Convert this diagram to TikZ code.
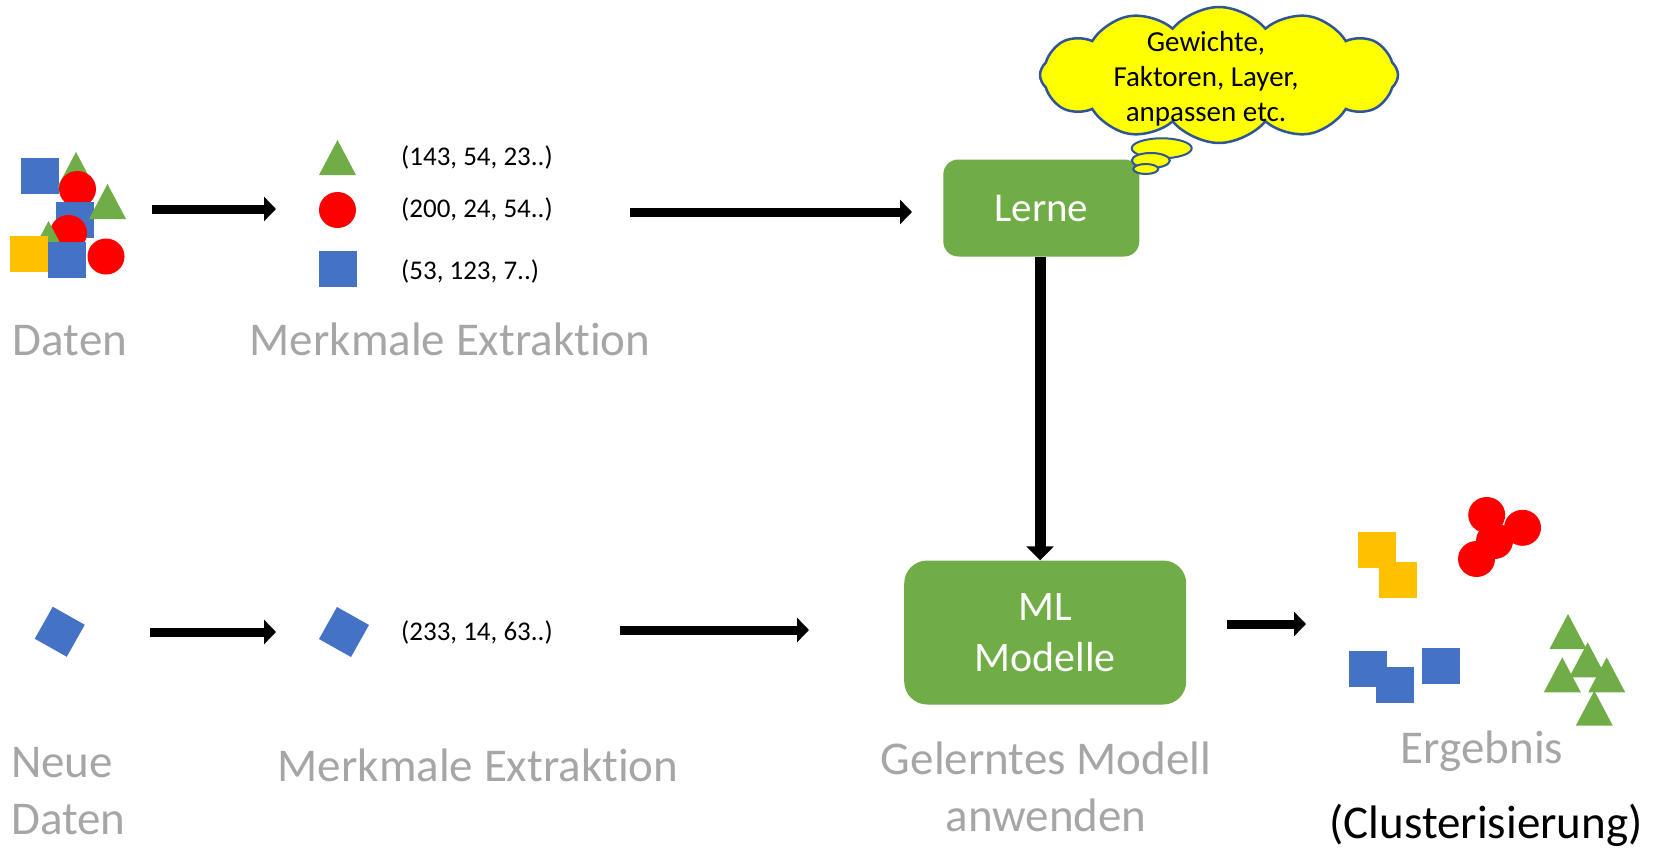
\documentclass[tikz,border=0pt]{standalone}
\usepackage{fontspec}
\setmainfont{Carlito}[Ligatures=NoCommon,RawFeature={-liga;-calt;-dlig}]
\usetikzlibrary{arrows.meta,shapes.symbols}

\definecolor{grn}{HTML}{70AD47}
\definecolor{blu}{HTML}{4472C4}
\definecolor{rd}{HTML}{FF0000}
\definecolor{ylw}{HTML}{FFC000}
\definecolor{lbl}{HTML}{A6A6A6}
\definecolor{cloudline}{HTML}{2F5597}
\definecolor{cloudfill}{HTML}{FFFF00}

% small icon macros (top-left / apex / centre given in pixel coordinates)
\newcommand\icTri[2]{\fill[grn] (#1,#2) -- ++(-18.5,35) -- ++(37,0) -- cycle;}
\newcommand\icSq[2]{\fill[blu] (#1,#2) rectangle ++(38,36);}
\newcommand\icYSq[2]{\fill[ylw] (#1,#2) rectangle ++(38,36);}
\newcommand\icDot[2]{\fill[rd] (#1,#2) ellipse[x radius=18.5,y radius=18];}
\newcommand\icDiamond[2]{\fill[blu,shift={(#1,#2)}] (-7,-25) -- (25,-7) -- (7,25) -- (-25,7) -- cycle;}

\tikzset{
  flow/.style={line width=9pt,-{Triangle[width=24pt,length=12pt]}},
  bigflow/.style={line width=11pt,-{Triangle[width=27pt,length=14pt]}},
  greybig/.style={text=lbl,font=\fontsize{47}{56}\selectfont,inner sep=0pt},
  vec/.style={font=\fontsize{27}{32}\selectfont,inner sep=0pt,anchor=west},
  greenbox/.style={fill=grn,rounded corners=#1,text=white,align=center,inner sep=0pt},
}

\begin{document}
\begin{tikzpicture}[x=1pt,y=-1pt]
\useasboundingbox (0,0) rectangle (1662,848);

% ---- training data: mixed shapes
\icSq{21}{158}
\icTri{76}{152}
\icDot{77.5}{189}
\icSq{56}{202}
\icTri{107.5}{184}
\icDot{68.5}{233}
\icTri{48.5}{221}
\icYSq{10}{236}
\icSq{48}{242}
\icDot{106}{256.5}
\node[greybig,anchor=base] (daten) at (70,355) {Daten};

% ---- feature vectors
\icTri{337.5}{140}
\icDot{337.5}{210}
\icSq{319}{251}
\node[vec] (v1) at (401,157.5) {(143, 54, 23..)};
\node[vec] (v2) at (401,209) {(200, 24, 54..)};
\node[vec] (v3) at (401,271) {(53, 123, 7..)};
\node[greybig,anchor=base] (merk1) at (450,355) {Merkmale Extraktion};

% ---- learning step
\node[greenbox=15pt,minimum width=196pt,minimum height=97pt,
      font=\fontsize{41}{49}\selectfont] (lerne) at (1041.3,208) {Lerne};

% thought cloud
\node[cloud,cloud puffs=12,cloud puff arc=100,cloud ignores aspect,
      minimum width=358pt,minimum height=136pt,inner sep=0pt,
      draw=cloudline,line width=2.5pt,fill=cloudfill] (cloud) at (1219,75) {};
\draw[cloudline,line width=2pt,fill=cloudfill] (1161.7,148.3) ellipse[x radius=30,y radius=10];
\draw[cloudline,line width=2pt,fill=cloudfill] (1150.8,160.5) ellipse[x radius=19,y radius=7.5];
\draw[cloudline,line width=2pt,fill=cloudfill] (1145.8,169) ellipse[x radius=12.5,y radius=5];
\node[font=\fontsize{29}{35}\selectfont,align=center,inner sep=0pt] (cloudtxt) at (1206,79)
  {Gewichte,\\Faktoren, Layer,\\anpassen etc.};

% ---- new data
\icDiamond{59.75}{631.75}
\icDiamond{344}{632}
\node[vec] (v4) at (401,632) {(233, 14, 63..)};
\node[greybig,anchor=base west] (neue) at (11,777) {Neue};
\node[greybig,anchor=base west] (neue2) at (11,834) {Daten};
\node[greybig,anchor=base] (merk2) at (478,781) {Merkmale Extraktion};

% ---- model
\node[greenbox=23pt,minimum width=282pt,minimum height=144pt,
      font=\fontsize{42}{51}\selectfont] (ml) at (1045.2,632.5) {ML\\Modelle};
\node[greybig,anchor=base] (gel1) at (1046,774) {Gelerntes Modell};
\node[greybig,anchor=base] (gel2) at (1046,831) {anwenden};

% ---- result clusters
\icYSq{1358}{532.3}
\icYSq{1379}{562}
\icDot{1486.7}{515}
\icDot{1522.5}{527.8}
\icDot{1494.5}{541}
\icDot{1476.5}{559}
\icSq{1349}{651}
\icSq{1376}{667}
\icSq{1422}{648}
\icTri{1568}{614}
\icTri{1587.7}{642.3}
\icTri{1562.3}{657.3}
\icTri{1606.7}{657.3}
\icTri{1594.3}{690.7}
\node[greybig,anchor=base] (erg) at (1482,763) {Ergebnis};
\node[font=\fontsize{47}{56}\selectfont,inner sep=0pt,anchor=base] (clu) at (1486,838) {(Clusterisierung)};

% ---- connectors
\coordinate (a1s) at (152,209);   \coordinate (a1e) at (276,209);
\coordinate (a2s) at (630,212);   \coordinate (a2e) at (912,212);
\coordinate (b1s) at (150,632);   \coordinate (b1e) at (276,632);
\coordinate (b2s) at (620,630);   \coordinate (b2e) at (809,630);
\coordinate (c1s) at (1227,624);  \coordinate (c1e) at (1306,624);
\draw[flow] (a1s) -- (a1e);
\draw[flow] (a2s) -- (a2e);
\draw[flow] (b1s) -- (b1e);
\draw[flow] (b2s) -- (b2e);
\draw[flow] (c1s) -- (c1e);
\draw[bigflow] ([xshift=-1.3pt]lerne.south) -- ([xshift=-1.3pt]lerne.south |- ml.north);
\end{tikzpicture}
\end{document}
